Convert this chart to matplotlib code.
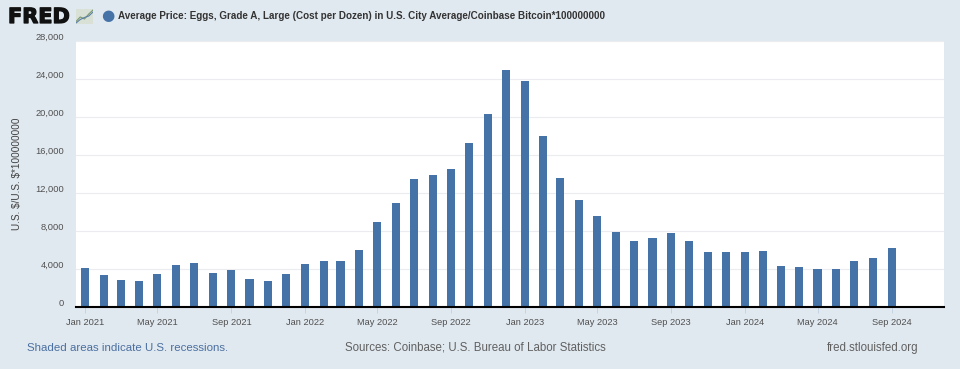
import matplotlib
matplotlib.use('Agg')
import matplotlib.pyplot as plt
import matplotlib.dates as mdates
import matplotlib.patheffects as pe
from matplotlib.transforms import ScaledTranslation
import pandas as pd

plt.rcParams['font.family'] = ['Liberation Sans', 'DejaVu Sans']

start_month = '2021-01-01'
values = [4100, 3350, 2850, 2750, 3450, 4450, 4650, 3600, 3900, 3000, 2750, 3500,
          4550, 4800, 4800, 6000, 8900, 11000, 13500, 13850, 14500, 17250, 20300, 24900,
          23750, 17950, 13550, 11250, 9600, 7900, 6900, 7250, 7750, 6900, 5750, 5750,
          5750, 5900, 4300, 4250, 4050, 4050, 4800, 5200, 6200]
y_ticks = [0, 4000, 8000, 12000, 16000, 20000, 24000, 28000]
x_tick_months = pd.date_range('2021-01-01', '2024-09-01', freq='4MS')

title = 'Average Price: Eggs, Grade A, Large (Cost per Dozen) in U.S. City Average/Coinbase Bitcoin*100000000'
y_label = r'U.S. \$/U.S. \$*100000000'

BG = '#e1e9f0'
BAR = '#4572a7'
TXT = '#505050'

W, H = 960, 369
months = pd.date_range(start_month, periods=len(values), freq='MS')

fig = plt.figure(figsize=(W / 100, H / 100), dpi=100, facecolor=BG)
ax = fig.add_axes([76 / W, 1 - 307 / H, (944 - 76) / W, (307 - 41) / H])

ax.bar(months, values, width=13.5, color=BAR, zorder=3)
ax.set_xlim(pd.Timestamp('2020-12-17'), pd.Timestamp('2024-11-27'))
ax.set_ylim(0, 28000)

# labels sit a little above their gridlines, like the original
ax.set_yticks(y_ticks)
ax.set_yticklabels([f'{v:,}' for v in y_ticks], fontsize=6.7, color=TXT)
ax.tick_params(axis='y', length=0, pad=8.5)
for lab in ax.get_yticklabels():
    lab.set_transform(lab.get_transform() + ScaledTranslation(0, 5 / 100, fig.dpi_scale_trans))
ax.grid(axis='y', color='#eaecef', lw=0.8, zorder=0)
ax.set_axisbelow(True)

ax.set_xticks(x_tick_months)
ax.xaxis.set_major_formatter(mdates.DateFormatter('%b %Y'))
ax.tick_params(axis='x', length=4, width=0.6, color='#c0d0e0', labelsize=6.7, labelcolor=TXT, pad=4)

for side in ['top', 'right', 'left']:
    ax.spines[side].set_visible(False)
ax.spines['bottom'].set_color('black')
ax.spines['bottom'].set_linewidth(1.5)
ax.spines['bottom'].set_zorder(5)

fig.text(17 / W, 1 - 173.5 / H, y_label, rotation=90, fontsize=7.2, color='#404040', ha='center', va='center')

# header, the stroke makes the logo as heavy as the real one
logo = fig.text(8 / W, 1 - 17 / H, 'FRED', fontsize=15, fontweight='bold', color='#111111', ha='left', va='center', family='DejaVu Sans')
logo.set_path_effects([pe.withStroke(linewidth=0.9, foreground='#111111')])
icon = fig.add_axes([76 / W, 1 - 24 / H, 17 / W, 15 / H], facecolor='#d9e0d6')
icon.plot([0, 1, 2, 3, 4], [0.5, 1.4, 1, 2, 2.8], color='#7a9a70', lw=0.8)
icon.plot([0, 1, 2, 3, 4], [0.2, 0.9, 1.3, 1.6, 2.4], color='#5b7fa8', lw=0.8)
icon.set_xlim(0, 4)
icon.set_ylim(0, 3)
icon.set_xticks([])
icon.set_yticks([])
for side in icon.spines.values():
    side.set_visible(False)
fig.text(107.5 / W, 1 - 15.5 / H, '\u25cf', fontsize=11, color=BAR, ha='center', va='center', family='DejaVu Sans')
fig.text(118 / W, 1 - 16 / H, title, fontsize=7.1, fontweight='bold', color='#333333', ha='left', va='center')

# footer
fig.text(27 / W, 1 - 348 / H, 'Shaded areas indicate U.S. recessions.', fontsize=8.25, color='#4a6fa0', ha='left', va='center')
fig.text(475.5 / W, 1 - 348 / H, 'Sources: Coinbase; U.S. Bureau of Labor Statistics', fontsize=8.3, color='#606060', ha='center', va='center')
fig.text(918 / W, 1 - 348 / H, 'fred.stlouisfed.org', fontsize=8.3, color='#606060', ha='right', va='center')

fig.savefig('out.png', dpi=100, facecolor=BG)
